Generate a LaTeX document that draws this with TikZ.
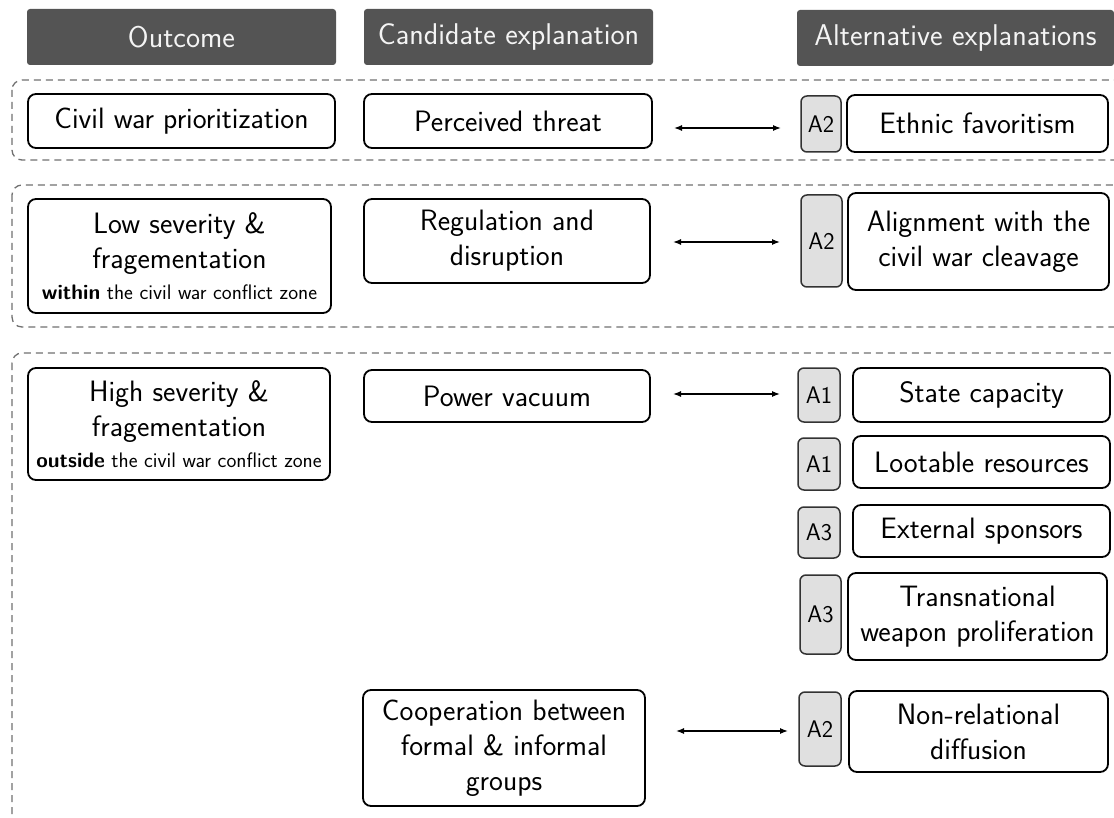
\documentclass[tikz,border=0pt]{standalone}
\usepackage{fontspec}
\usetikzlibrary{arrows.meta}
\definecolor{headfill}{HTML}{545454}
\definecolor{headtext}{HTML}{F4F4F4}
\definecolor{tagfill}{HTML}{E0E0E0}
\definecolor{tagline}{HTML}{333333}
\definecolor{groupline}{HTML}{707070}
% a node spanning the box (x0,y0)--(x1,y1), in pixel-like units
\newcommand\cellbox[7]{%
  \node[#1, minimum width={#5-#3}, minimum height={#6-#4}] (#2) at ({(#3+#5)/2},{(#4+#6)/2}) {#7};}
% smaller type for the location line
\newcommand\notesize{\fontsize{21}{23}\selectfont}
\begin{document}
\begin{tikzpicture}[x=1pt,y=-1pt,
  header/.style={fill=headfill, rounded corners=3pt, text=headtext, inner sep=0pt,
    font=\sffamily\fontsize{30}{34}\selectfont},
  item/.style={draw=black, line width=1.8pt, rounded corners=8pt, inner sep=0pt, align=center,
    font=\sffamily\fontsize{29.5}{35}\selectfont},
  tag/.style={draw=tagline, fill=tagfill, line width=1.5pt, rounded corners=6pt, inner sep=0pt,
    font=\sffamily\fontsize{24}{26}\selectfont},
  group/.style={draw=groupline, line width=1.3pt, dash pattern=on 7pt off 5pt, rounded corners=10pt},
  link/.style={line width=1.3pt, {Latex[length=8pt,width=6pt]}-{Latex[length=8pt,width=6pt]}}
]
\useasboundingbox (0,0) rectangle (1114,818);
\clip (0,0) rectangle (1114,818);

% column headers
\cellbox{header}{hout}{27}{9}{336}{65}{Outcome}
\cellbox{header}{hcand}{364}{9}{653}{65}{Candidate explanation}
\cellbox{header}{halt}{797}{10}{1114}{66}{Alternative explanations}

% dashed groups
\draw[group] (12,80) rectangle (1140,160);
\draw[group] (12,185) rectangle (1140,327);
\draw[group] (12,353) rectangle (1140,860);

% group 1
\cellbox{item}{civil}{28}{94}{335}{148}{Civil war prioritization}
\cellbox{item}{threat}{364}{94}{652}{148}{Perceived threat}
\cellbox{tag}{ta}{801}{96}{841}{152}{A2}
\cellbox{item}{ethnic}{847}{95}{1108}{152}{Ethnic favoritism}
\coordinate (a1l) at (674,128);
\coordinate (a1r) at (781,128);
\draw[link] (a1l) -- (a1r);

% group 2
\cellbox{item}{low}{28}{199}{331}{313}{Low severity \&\\fragementation\\[-4pt]{\notesize\textbf{within} the civil war conflict zone}}
\cellbox{item}{regul}{364}{199}{650}{283}{Regulation and\\disruption}
\cellbox{tag}{tb}{801}{195}{842}{287}{A2}
\cellbox{item}{align}{848}{193}{1109}{290}{Alignment with the\\civil war cleavage}
\coordinate (a2l) at (673,242);
\coordinate (a2r) at (780,242);
\draw[link] (a2l) -- (a2r);

% group 3
\cellbox{item}{high}{28}{368}{330}{480}{High severity \&\\fragementation\\[-4pt]{\notesize\textbf{outside} the civil war conflict zone}}
\cellbox{item}{power}{364}{370}{650}{422}{Power vacuum}
\cellbox{tag}{tc}{798}{368}{840}{422}{A1}
\cellbox{item}{state}{853}{368}{1110}{422}{State capacity}
\cellbox{tag}{td}{798}{438}{840}{490}{A1}
\cellbox{item}{loot}{853}{436}{1110}{488}{Lootable resources}
\cellbox{tag}{te}{798}{507}{840}{558}{A3}
\cellbox{item}{ext}{853}{505}{1110}{557}{External sponsors}
\cellbox{tag}{tf}{800}{575}{841}{654}{A3}
\cellbox{item}{trans}{848}{573}{1107}{660}{Transnational\\weapon proliferation}
\cellbox{item}{coop}{363}{690}{645}{806}{Cooperation between\\formal \& informal\\groups}
\cellbox{tag}{tg}{799}{692}{841}{766}{A2}
\cellbox{item}{nonrel}{849}{691}{1108}{772}{Non-relational\\diffusion}
\coordinate (a3l) at (673,394);
\coordinate (a3r) at (780,394);
\draw[link] (a3l) -- (a3r);
\coordinate (a4l) at (676,731);
\coordinate (a4r) at (788,731);
\draw[link] (a4l) -- (a4r);
\end{tikzpicture}
\end{document}
